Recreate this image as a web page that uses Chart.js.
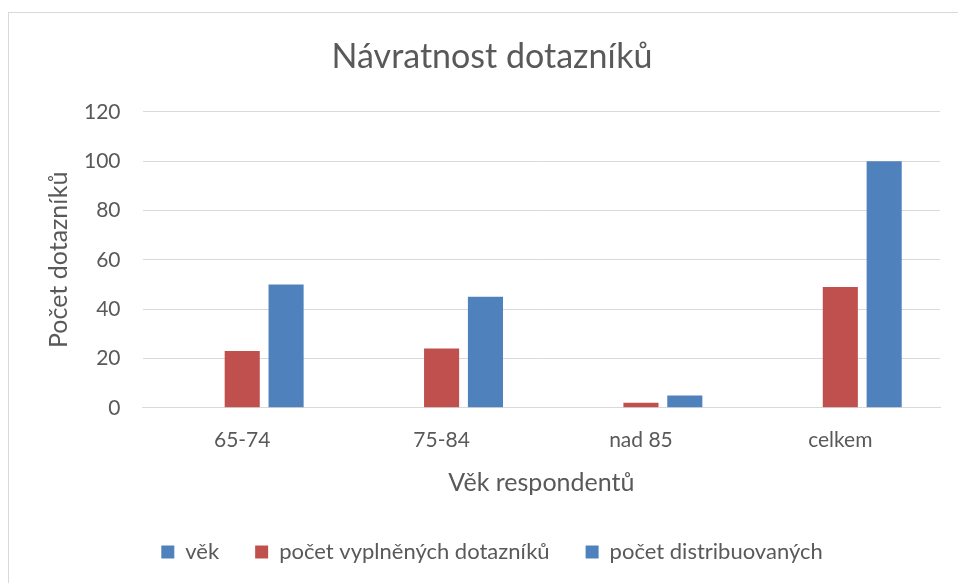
<!DOCTYPE html>
<html>
<head>
<meta charset="utf-8">
<script src="https://cdn.jsdelivr.net/npm/chart.js@4.4.1/dist/chart.umd.min.js"></script>
<style>
  html, body { margin: 0; padding: 0; background: #ffffff; }
  #frame { position: absolute; left: 8px; top: 12px; width: 960px; height: 580px; border: 1px solid #d9d9d9; box-sizing: border-box; }
  #wrap { position: absolute; left: 0; top: 0; width: 958px; height: 583px; }
</style>
</head>
<body>
<div id="frame"></div>
<div id="wrap"><canvas id="c" width="958" height="583"></canvas></div>
<script>
const categories = ["65-74", "75-84", "nad 85", "celkem"];
const seriesNames = ["věk", "počet vyplněných dotazníků", "počet distribuovaných"];
const vekValues = [0, 0, 0, 0];
const vyplneneValues = [23, 24, 2, 49];
const distribuovaneValues = [50, 45, 5, 100];
const yTicks = [0, 20, 40, 60, 80, 100, 120];

const FONT = "Lato, 'Liberation Sans', sans-serif";
const GREY = "#595959";

new Chart(document.getElementById("c"), {
  type: "bar",
  data: {
    labels: categories,
    datasets: [
      { label: seriesNames[0], data: vekValues, backgroundColor: "#4f81bd", borderWidth: 0 },
      { label: seriesNames[1], data: vyplneneValues, backgroundColor: "#c0504d", borderWidth: 0 },
      { label: seriesNames[2], data: distribuovaneValues, backgroundColor: "#4f81bd", borderWidth: 0 }
    ]
  },
  options: {
    responsive: false,
    animation: false,
    devicePixelRatio: 1,
    layout: { padding: { left: 44, right: 18, top: 22, bottom: 10 } },
    datasets: { bar: { categoryPercentage: 0.66, barPercentage: 0.8 } },
    plugins: {
      title: {
        display: true,
        text: "Návratnost dotazníků",
        color: GREY,
        font: { family: FONT, size: 34, weight: "normal" },
        padding: { top: 15, bottom: 34 }
      },
      legend: {
        position: "bottom",
        labels: {
          color: GREY,
          font: { family: FONT, size: 22 },
          boxWidth: 13,
          boxHeight: 13,
          padding: 36
        }
      },
      tooltip: { enabled: false }
    },
    scales: {
      x: {
        grid: { display: false },
        border: { color: "#d9d9d9", width: 1 },
        ticks: { color: GREY, font: { family: FONT, size: 21 }, padding: 12 },
        title: { display: true, text: "Věk respondentů", color: GREY, font: { family: FONT, size: 25 }, padding: { top: 3, bottom: 7 } }
      },
      y: {
        min: 0, max: 120,
        afterBuildTicks: (axis) => { axis.ticks = yTicks.map(v => ({ value: v })); },
        grid: { color: "#d9d9d9", lineWidth: 1, drawTicks: false },
        border: { display: false },
        ticks: { color: GREY, font: { family: FONT, size: 21 }, padding: 22 },
        title: { display: true, text: "Počet dotazníků", color: GREY, font: { family: FONT, size: 25 }, padding: { top: 0, bottom: -12 } }
      }
    }
  }
});
</script>
</body>
</html>
